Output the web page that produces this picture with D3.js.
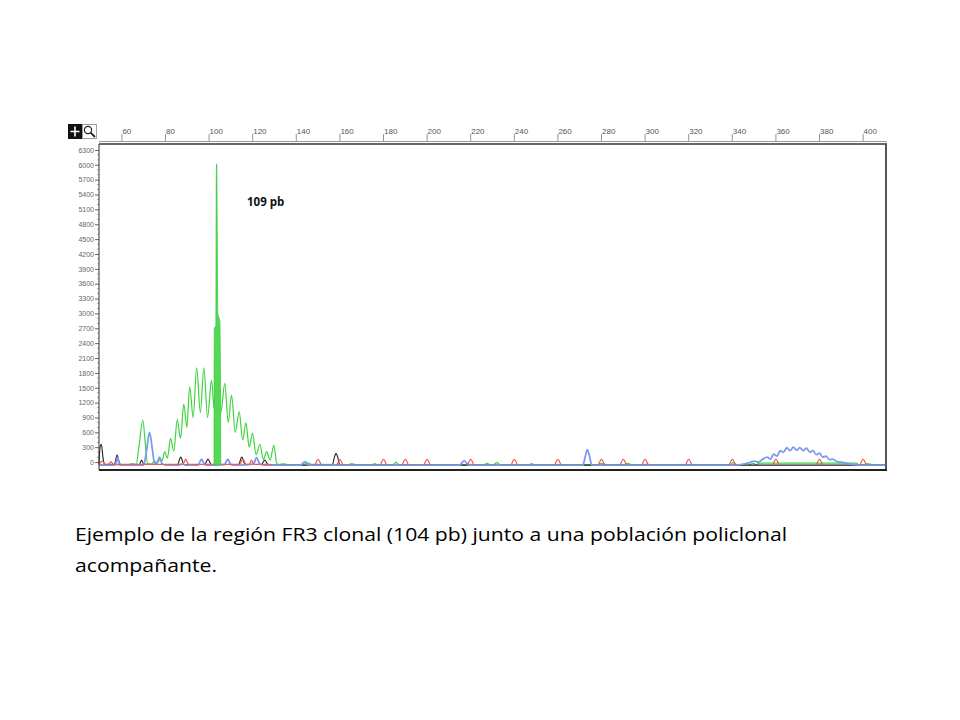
<!DOCTYPE html>
<html><head><meta charset="utf-8">
<script src="https://cdn.jsdelivr.net/npm/d3@7"></script>
<style>body{margin:0;background:#fff}svg{display:block}</style>
</head><body>
<svg id="c" width="960" height="720"></svg>
<script>
// ---- data ----
const xTickLabels = [60,80,100,120,140,160,180,200,220,240,260,280,300,320,340,360,380,400];
const yTickLabels = [0,300,600,900,1200,1500,1800,2100,2400,2700,3000,3300,3600,3900,4200,4500,4800,5100,5400,5700,6000,6300];
const peakLabel = "109 pb";
const captionLines = ["Ejemplo de la región FR3 clonal (104 pb) junto a una población policlonal","acompañante."];

// green dye trace [bp, rfu]
const greenTrace = [[49.5,-55],[52,-50],[55,-45],[57,-50],[60,-55],[63,-50],[65,-30],[66.5,-50],[67.8,300],[69.6,840],[70.8,350],[71.8,-30],[73.5,-40],[75,20],[76.2,-20],[77.5,60],[78.5,30],[79.6,210],[80.9,80],[82.3,480],[83.8,220],[85.4,850],[86.9,480],[88.4,1170],[89.8,700],[91.1,1520],[92.7,900],[94.3,1900],[96,1000],[97.6,1900],[99.3,900],[101.1,1650],[102.3,1100],[105.4,1000],[107.2,1590],[108.8,800],[110.3,1350],[112,600],[113.8,1020],[115.4,450],[116.9,790],[118.4,300],[119.9,585],[121.6,150],[123.3,360],[124.9,50],[126.4,210],[128,40],[129.7,340],[131,-20],[132,-50],[134,-35],[136,-50],[143,-50],[145,-15],[147,-45],[164,-50],[165.5,-30],[167,-50],[175,-50],[176,-30],[177,-50],[184.5,-50],[185.7,-5],[187,-50],[226,-50],[227.5,-25],[229,-50],[230.5,-50],[232,-10],[233.5,-50],[247,-50],[248,-30],[249,-50],[278,-50],[280,-25],[282,-50],[290,-50],[292,-25],[294,-50],[300,-50],[301,-35],[302,-50],[339,-50],[340.5,-10],[342,-50],[346,-50],[347,-20],[348,-50],[349.5,-25],[351,-50],[352.5,-20],[354,-20],[397,-20],[398,-50],[401,-50],[402,-30],[404,-50],[410.5,-55]];

// clonal spike (filled)
const spikeArea = [[102.3,-60],[102.4,2700],[103.1,2750],[103.3,5700],[103.45,6020],[103.6,5600],[104.0,3000],[104.9,2850],[105.2,1700],[105.35,-60]];

// blue dye trace
const blueTrace = [[49.5,-60],[56.5,-60],[57.2,-30],[58,90],[58.8,-30],[59.5,-60],[70,-60],[71.2,200],[72.7,600],[74,250],[75,-30],[76,-20],[77.3,100],[78.5,-40],[80,-60],[86,-60],[87.5,-40],[89,-60],[95,-60],[96.5,60],[98,-50],[100,-60],[107,-50],[108.6,60],[110,-50],[113,-60],[120.3,-40],[121.8,90],[123.3,-40],[125,-60],[142,-60],[144,10],[146,-60],[215,-60],[217,30],[219,-60],[271.5,-60],[272.5,100],[273.5,250],[274.5,120],[275.5,-60],[342,-60],[345,-40],[348,-10],[350,20],[352,0],[354,60],[356,100],[357.5,60],[359,160],[360.5,120],[362,230],[363.5,200],[365,290],[366.5,230],[368,300],[369.5,240],[371,290],[372.5,230],[374,280],[375.5,200],[377,230],[378.5,150],[380,180],[381.5,100],[383,120],[384.5,50],[386,60],[388,10],[390,0],[393,-30],[396,-50],[398,-60],[410.5,-60]];

// black dye trace
const blackTrace = [[49.5,-50],[50,300],[50.6,360],[51.3,100],[52,-50],[56.5,-50],[57.8,140],[59,-30],[60,-50],[68,-50],[69,40],[70,-40],[72,-50],[85.5,-50],[87,100],[88.5,-50],[98,-50],[99.5,60],[101,-50],[113.5,-50],[115,100],[116.5,-50],[124,-50],[125.5,40],[127,-50],[128,-62],[156.5,-62],[157.5,100],[158.2,175],[159,100],[160,-62],[410.5,-62]];

// red dye trace (left part) and size-standard peaks [bp, rfu]
const redTrace = [[49.5,-45],[51,20],[52.5,-45],[54,-40],[55,10],[56,-45],[62,-45],[88,-45],[89.3,60],[90.5,-45],[102,-45],[103,20],[104,-45],[114,-45],[115.5,60],[117,-45],[118.5,-45],[119.5,40],[120.5,-45],[128,-45],[129,-62]];
const redPeaks = [[150,55],[160,45],[180,55],[190,55],[200,55],[220,55],[240,55],[260,55],[280,55],[290,55],[300,55],[320,55],[340,55],[360,55],[380,55],[400,55]];

// ---- drawing ----
const svg = d3.select("#c");
const L = 99, R = 886, T = 144, B = 470;
const x = d3.scaleLinear().domain([49.5, 410.5]).range([L, R]);
const y = d3.scaleLinear().domain([-160, 6420]).range([B, T]);

// top ruler
svg.append("line").attr("x1", L).attr("x2", R + 1).attr("y1", 141.5).attr("y2", 141.5).attr("stroke", "#999").attr("stroke-width", 1);
const xt = svg.append("g");
xTickLabels.forEach(v => {
  xt.append("line").attr("x1", x(v)).attr("x2", x(v)).attr("y1", 134).attr("y2", 141).attr("stroke", "#777").attr("stroke-width", 0.8);
  xt.append("text").attr("x", x(v) + 0.5).attr("y", 134).attr("font-family", "Liberation Sans, Arial, sans-serif")
    .attr("font-size", 8).attr("fill", "#555").text(v);
});

// toolbar icons
svg.append("rect").attr("x", 68).attr("y", 124).attr("width", 14).attr("height", 15).attr("fill", "#111");
svg.append("path").attr("d", "M75,126.5V136.5M70.5,131.5H79.5").attr("stroke", "#fff").attr("stroke-width", 1.6);
svg.append("rect").attr("x", 82.5).attr("y", 124.5).attr("width", 14).attr("height", 14).attr("fill", "#fff").attr("stroke", "#888").attr("stroke-width", 0.8);
svg.append("circle").attr("cx", 88).attr("cy", 130).attr("r", 3.6).attr("fill", "none").attr("stroke", "#222").attr("stroke-width", 1.2);
svg.append("line").attr("x1", 90.6).attr("y1", 132.6).attr("x2", 95).attr("y2", 137).attr("stroke", "#222").attr("stroke-width", 1.8);

// y axis
const ya = d3.axisLeft(y).tickValues(yTickLabels).tickSize(4).tickPadding(1).tickFormat(d3.format("d"));
const yg = svg.append("g").attr("transform", `translate(${L},0)`).call(ya);
yg.select(".domain").remove();
yg.selectAll("text").attr("font-family", "Liberation Sans, Arial, sans-serif").attr("font-size", 7).attr("fill", "#666");
yg.selectAll("line").attr("stroke", "#666");
const minor = d3.range(0, 6400, 100).filter(v => v % 300 !== 0);
svg.append("g").selectAll("line").data(minor).join("line")
  .attr("x1", L - 2).attr("x2", L).attr("y1", d => y(d)).attr("y2", d => y(d)).attr("stroke", "#888").attr("stroke-width", 0.7);

// traces
const line = d3.line().x(d => x(d[0])).y(d => y(d[1])).curve(d3.curveMonotoneX);
const plot = svg.append("g");
plot.append("path").attr("d", line(greenTrace)).attr("fill", "none").attr("stroke", "#3fd43f").attr("stroke-width", 1.2);
plot.append("path").attr("d", line(blackTrace)).attr("fill", "none").attr("stroke", "#222").attr("stroke-width", 1.1);
plot.append("path").attr("d", line(blueTrace)).attr("fill", "none").attr("stroke", "#7b9bee").attr("stroke-width", 1.8);
plot.append("path").attr("d", line(redTrace)).attr("fill", "none").attr("stroke", "#f05a5a").attr("stroke-width", 1.3);
redPeaks.forEach(p => {
  plot.append("path").attr("d", line([[p[0] - 1.4, -62], [p[0], p[1]], [p[0] + 1.4, -62]]))
    .attr("fill", "none").attr("stroke", "#f24a4a").attr("stroke-width", 1.1);
});
const area = d3.area().x(d => x(d[0])).y0(y(-60)).y1(d => y(d[1])).curve(d3.curveMonotoneX);
plot.append("path").attr("d", area(spikeArea)).attr("fill", "#55d955").attr("stroke", "#3cc83c").attr("stroke-width", 0.8);

// frame
svg.append("line").attr("x1", L).attr("x2", R + 1).attr("y1", T).attr("y2", T).attr("stroke", "#333").attr("stroke-width", 1.6);
svg.append("line").attr("x1", R).attr("x2", R).attr("y1", T).attr("y2", B).attr("stroke", "#555").attr("stroke-width", 2);
svg.append("line").attr("x1", L).attr("x2", R + 1).attr("y1", B).attr("y2", B).attr("stroke", "#222").attr("stroke-width", 2);
svg.append("line").attr("x1", L).attr("x2", L).attr("y1", T).attr("y2", B).attr("stroke", "#333").attr("stroke-width", 1);

// annotation
svg.append("text").attr("x", 247).attr("y", 206).attr("font-family", "Open Sans, sans-serif").attr("font-weight", "bold")
  .attr("font-size", 11.5).attr("fill", "#111").text(peakLabel);

// caption
svg.append("text").attr("x", 75).attr("y", 541).attr("font-family", "Open Sans, sans-serif").attr("font-size", 18.5)
  .attr("fill", "#000").attr("textLength", 712).attr("lengthAdjust", "spacingAndGlyphs").text(captionLines[0]);
svg.append("text").attr("x", 75).attr("y", 572).attr("font-family", "Open Sans, sans-serif").attr("font-size", 18.5)
  .attr("fill", "#000").attr("textLength", 142).attr("lengthAdjust", "spacingAndGlyphs").text(captionLines[1]);
</script>
</body></html>
